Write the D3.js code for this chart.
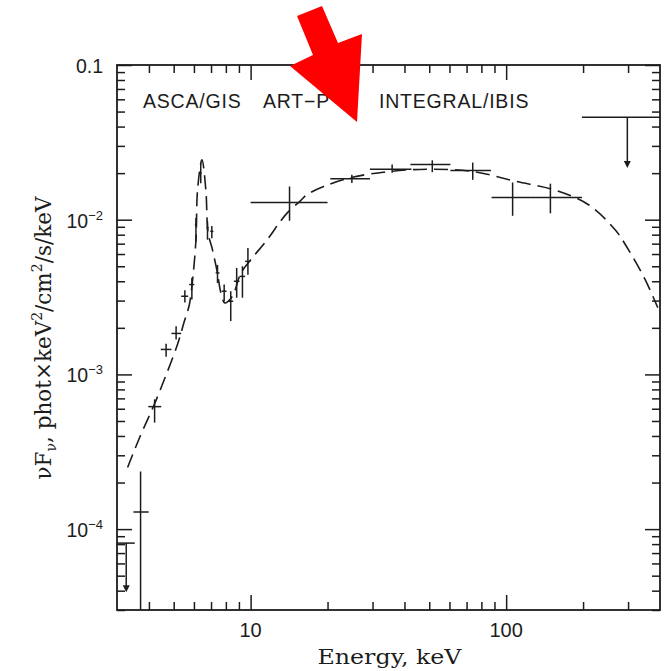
<!DOCTYPE html>
<html><head><meta charset="utf-8">
<script src="https://cdn.jsdelivr.net/npm/d3@7"></script>
<style>body{margin:0;background:#fff}svg{display:block}</style>
</head><body>
<script>
// ---------- DATA ----------
const xDomain = [3, 400];
const yDomain = [3e-5, 0.1];
const xMajorTicks = [10, 100];
const xMinorTicks = [4,5,6,7,8,9,20,30,40,50,60,70,80,90,200,300];
const xTickLabels = ["10", "100"];
const yMajorTicks = [1e-4, 1e-3, 1e-2, 0.1];
const yTickBase = ["10", "10", "10", "0.1"];
const yTickExp  = ["\u22124", "\u22123", "\u22122", ""];

// ASCA/GIS points
const gisE   = [3.71, 4.21, 4.67, 5.11, 5.53, 5.89, 6.11, 6.38, 6.78, 7.05, 7.42, 7.88, 8.36, 8.82, 9.29, 9.76];
const gisElo = [3.48, 3.98, 4.45, 4.90, 5.35, 5.75, 6.05, 6.33, 6.72, 6.95, 7.30, 7.72, 8.15, 8.60, 9.05, 9.52];
const gisEhi = [3.99, 4.47, 4.90, 5.35, 5.70, 6.02, 6.17, 6.43, 6.85, 7.15, 7.55, 8.05, 8.55, 9.05, 9.52, 10.0];
const gisF   = [1.29e-4, 6.19e-4, 1.45e-3, 1.84e-3, 3.20e-3, 3.81e-3, 9.29e-3, 0.0200, 8.88e-3, 8.41e-3, 4.53e-3, 3.45e-3, 2.97e-3, 4.0e-3, 4.30e-3, 5.38e-3];
const gisFlo = [1e-6,    4.88e-4, 1.30e-3, 1.68e-3, 2.92e-3, 3.05e-3, 7.24e-3, 0.0172, 7.43e-3, 7.6e-3,  3.9e-3,  2.97e-3, 2.21e-3, 3.13e-3, 3.13e-3, 4.41e-3];
const gisFhi = [2.36e-4, 6.9e-4,  1.58e-3, 2.05e-3, 3.50e-3, 4.21e-3, 1.025e-2, 0.0232, 9.76e-3, 9.1e-3, 5.1e-3,  3.81e-3, 3.45e-3, 4.88e-3, 5.0e-3,  6.56e-3];

// ART-P point
const artE   = [14.2];
const artElo = [10];
const artEhi = [20];
const artF   = [0.0129];
const artFlo = [0.00985];
const artFhi = [0.0164];

// INTEGRAL/IBIS points
const ibisE   = [24.9, 35.8, 51.4, 74.0, 106, 149];
const ibisElo = [20.5, 29.3, 42.2, 60.5, 87.7, 125];
const ibisEhi = [29.3, 42.6, 60.5, 87.2, 125, 198];
const ibisF   = [0.0184, 0.0212, 0.0227, 0.0208, 0.0139, 0.0139];
const ibisFlo = [0.0173, 0.0201, 0.0203, 0.0181, 0.0106, 0.0110];
const ibisFhi = [0.0195, 0.0227, 0.0242, 0.0234, 0.0174, 0.0171];

// upper limits
const ulE    = [3.26, 298];
const ulElo  = [3.0, 198];
const ulEhi  = [3.52, 400];
const ulF    = [8.12e-5, 0.046];
const ulFend = [3.9e-5, 0.0216];

// model curve
const modelE = [3.3, 3.7, 4.2, 4.7, 5.2, 5.5, 5.75, 5.93, 6.11, 6.2, 6.45, 6.68, 6.82, 7.09, 7.42, 7.64, 7.93, 8.49, 9.15, 10, 11.6, 13.1, 14, 15.7, 16.6, 19.3, 25, 35, 50, 74, 109, 156, 210, 267, 301, 350, 392];
const modelF = [2.5e-4, 4.0e-4, 6.4e-4, 1.02e-3, 1.6e-3, 2.2e-3, 2.8e-3, 4.1e-3, 7.4e-3, 0.0156, 0.0244, 0.0156, 0.0082, 0.0064, 0.0045, 0.0034, 0.0029, 0.0032, 0.0045, 0.0055, 0.0074, 0.0098, 0.0112, 0.0133, 0.0145, 0.0164, 0.0188, 0.0205, 0.0212, 0.0205, 0.0177, 0.0155, 0.0125, 0.0086, 0.0064, 0.0041, 0.0027];

const instrLabels = ["ASCA/GIS", "ART\u2212P", "INTEGRAL/IBIS"];

// ---------- LAYOUT ----------
const W = 666, H = 671;
const M = {left: 117, right: 6, top: 65, bottom: 61};
const ink = "#1c1c1c";
const svg = d3.select("body").append("svg").attr("width", W).attr("height", H);
const x = d3.scaleLog().domain(xDomain).range([M.left, W - M.right]);
const y = d3.scaleLog().domain(yDomain).range([H - M.bottom, M.top]);
const x0 = M.left, x1 = W - M.right, y0 = H - M.bottom, y1 = M.top;

svg.append("defs").append("clipPath").attr("id", "clip")
  .append("rect").attr("x", x0).attr("y", y1).attr("width", x1 - x0).attr("height", y0 - y1);

// minor y ticks
const yMinorTicks = [];
[1e-5, 1e-4, 1e-3, 1e-2].forEach(d => { for (let k = 2; k <= 9; k++) { const v = d * k; if (v >= yDomain[0] && v < yDomain[1]) yMinorTicks.push(v); } });

function styleAxis(g) {
  g.select(".domain").remove();
  g.selectAll(".tick line").attr("stroke", ink).attr("stroke-width", 1.5);
  g.selectAll(".tick text").remove();
}
const axes = [
  [d3.axisBottom(x), `translate(0,${y0})`, xMajorTicks, xMinorTicks],
  [d3.axisTop(x), `translate(0,${y1})`, xMajorTicks, xMinorTicks],
  [d3.axisLeft(y), `translate(${x0},0)`, yMajorTicks, yMinorTicks],
  [d3.axisRight(y), `translate(${x1},0)`, yMajorTicks, yMinorTicks]
];
axes.forEach(([ax, tr, maj, min]) => {
  svg.append("g").attr("transform", tr).call(ax.tickValues(maj).tickSize(-15).tickFormat(() => "")).call(styleAxis);
  svg.append("g").attr("transform", tr).call(ax.tickValues(min).tickSize(-8).tickFormat(() => "")).call(styleAxis);
});

// frame
svg.append("rect").attr("x", x0).attr("y", y1).attr("width", x1 - x0).attr("height", y0 - y1)
  .attr("fill", "none").attr("stroke", ink).attr("stroke-width", 1.8);

// tick labels
svg.append("g").selectAll("text").data(xMajorTicks).join("text")
  .attr("x", d => x(d)).attr("y", y0 + 27).attr("text-anchor", "middle")
  .attr("font-family", "Liberation Sans, Arial, sans-serif").attr("font-size", 20).attr("fill", ink)
  .text((d, i) => xTickLabels[i]);

const yl = svg.append("g").selectAll("text").data(yMajorTicks).join("text")
  .attr("x", 103).attr("y", d => y(d) + 8).attr("text-anchor", "end")
  .attr("font-family", "Liberation Sans, Arial, sans-serif").attr("font-size", 19.5).attr("fill", ink);
yl.append("tspan").text((d, i) => yTickBase[i]);
yl.append("tspan").attr("font-size", 13).attr("dy", -8).text((d, i) => yTickExp[i]);

// axis titles
svg.append("text").attr("x", (x0 + x1) / 2 + 1).attr("y", 664).attr("text-anchor", "middle")
  .attr("font-family", "DejaVu Serif, serif").attr("font-size", 20).attr("fill", ink)
  .attr("textLength", 144).attr("lengthAdjust", "spacingAndGlyphs")
  .text("Energy, keV");

const yt = svg.append("text").attr("transform", "translate(51,338) rotate(-90)").attr("text-anchor", "middle")
  .attr("font-family", "DejaVu Serif, serif").attr("font-size", 21.5).attr("fill", ink);
yt.append("tspan").text("\u03bdF");
yt.append("tspan").attr("font-size", 14).attr("dy", 5).text("\u03bd");
yt.append("tspan").attr("dy", -5).text(", phot\u00d7keV");
yt.append("tspan").attr("font-size", 14).attr("dy", -9).text("2");
yt.append("tspan").attr("dy", 9).text("/cm");
yt.append("tspan").attr("font-size", 14).attr("dy", -9).text("2");
yt.append("tspan").attr("dy", 9).text("/s/keV");

// instrument labels
const labX = [143, 263, 379];
svg.append("g").selectAll("text").data(instrLabels).join("text")
  .attr("x", (d, i) => labX[i]).attr("y", 108)
  .attr("font-family", "Liberation Sans, Arial, sans-serif").attr("font-size", 19.5)
  .attr("letter-spacing", 0.8).attr("fill", ink).text(d => d);

// plot content
const plot = svg.append("g").attr("clip-path", "url(#clip)");

// model
const modelPts = modelE.map((e, i) => [e, modelF[i]]);
plot.append("path").datum(modelPts)
  .attr("d", d3.line().x(d => x(d[0])).y(d => y(d[1])).curve(d3.curveCatmullRom.alpha(0.5)))
  .attr("fill", "none").attr("stroke", ink).attr("stroke-width", 1.6).attr("stroke-dasharray", "14,7");

// error bars
function errBars(E, Elo, Ehi, F, Flo, Fhi) {
  const g = plot.append("g").attr("stroke", ink).attr("stroke-width", 1.5);
  E.forEach((e, i) => {
    g.append("line").attr("x1", x(Elo[i])).attr("x2", x(Ehi[i])).attr("y1", y(F[i])).attr("y2", y(F[i]));
    g.append("line").attr("x1", x(e)).attr("x2", x(e)).attr("y1", y(Flo[i])).attr("y2", y(Fhi[i]));
  });
}
errBars(gisE, gisElo, gisEhi, gisF, gisFlo, gisFhi);
errBars(artE, artElo, artEhi, artF, artFlo, artFhi);
errBars(ibisE, ibisElo, ibisEhi, ibisF, ibisFlo, ibisFhi);

// upper limits
const ul = plot.append("g");
ulE.forEach((e, i) => {
  ul.append("line").attr("x1", x(ulElo[i])).attr("x2", x(ulEhi[i])).attr("y1", y(ulF[i])).attr("y2", y(ulF[i]))
    .attr("stroke", ink).attr("stroke-width", 1.5);
  ul.append("line").attr("x1", x(e)).attr("x2", x(e)).attr("y1", y(ulF[i])).attr("y2", y(ulFend[i]) - 4)
    .attr("stroke", ink).attr("stroke-width", 1.5);
  const tx = x(e), ty = y(ulFend[i]);
  ul.append("path").attr("d", `M${tx - 3.5},${ty - 7}L${tx + 3.5},${ty - 7}L${tx},${ty}Z`).attr("fill", ink);
});

// red arrow annotation
const arrowPts = [[297,16],[322,6],[338,43],[362,34],[357,122],[290,66],[313,55]];
svg.append("path").attr("d", d3.line()(arrowPts) + "Z").attr("fill", "#ff0000");
</script>
</body></html>
